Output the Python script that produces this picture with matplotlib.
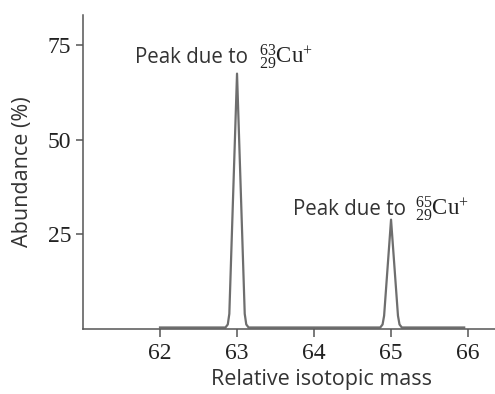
import matplotlib
matplotlib.use("Agg")
import matplotlib.pyplot as plt

# Mass spectrum of copper
mass = [62.0, 62.85, 62.88, 62.90, 63.0, 63.10, 63.12, 63.15,
        64.86, 64.89, 64.91, 65.0, 65.09, 65.11, 65.14, 65.95]
abundance = [0.4, 0.4, 1.2, 4.0, 67.5, 4.0, 1.2, 0.4,
             0.4, 1.2, 3.5, 28.9, 3.5, 1.2, 0.4, 0.4]

x_ticks = [62, 63, 64, 65, 66]
y_ticks = [25, 50, 75]

labels = ["Peak due to", "Peak due to"]
nuclides = [r"${}^{63}_{29}\mathrm{Cu}^{+}$", r"${}^{65}_{29}\mathrm{Cu}^{+}$"]
label_pos = [(63.143, 63.286, 70.2), (65.195, 65.31, 30.2)]

plt.rcParams["mathtext.fontset"] = "custom"
plt.rcParams["mathtext.rm"] = "Liberation Serif"
plt.rcParams["mathtext.it"] = "Liberation Serif:italic"

fig = plt.figure(figsize=(4.95, 3.94), dpi=100)
ax = fig.add_axes([0.1677, 0.165, 0.8323, 0.797])

ax.plot(mass, abundance, color="#6e6e6e", lw=1.6, solid_joinstyle="round")

ax.set_xlim(61.0, 66.35)
ax.set_ylim(0, 83)
ax.set_xticks(x_ticks)
ax.set_yticks(y_ticks)

for s in ["top", "right"]:
    ax.spines[s].set_visible(False)
for s in ["left", "bottom"]:
    ax.spines[s].set_color("#555555")
    ax.spines[s].set_linewidth(1.1)

ax.tick_params(colors="#555555", width=1.1, length=5, labelcolor="#222222")
ax.tick_params(axis="x", length=6, pad=4)
for lab in ax.get_xticklabels() + ax.get_yticklabels():
    lab.set_fontfamily("Liberation Serif")
    lab.set_fontsize(17)

ax.set_xlabel("Relative isotopic mass", fontfamily="Open Sans", fontsize=15.5,
              color="#333333", va="baseline")
ax.xaxis.set_label_coords(0.578, -0.178)
ax.set_ylabel("Abundance (%)", fontfamily="Open Sans", fontsize=15.5,
              color="#333333", va="center")
ax.yaxis.set_label_coords(-0.148, 0.5)

for txt, nuc, (x1, x2, yb) in zip(labels, nuclides, label_pos):
    ax.text(x1, yb, txt, ha="right", va="baseline", fontfamily="Open Sans",
            fontsize=14.8, color="#333333")
    ax.text(x2, yb, nuc, ha="left", va="baseline", fontsize=16.5, color="#222222")

fig.savefig("out.png", dpi=100)
